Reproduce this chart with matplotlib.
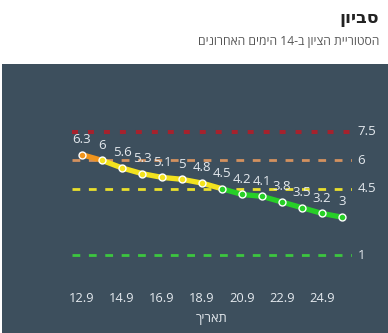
import re
import matplotlib
matplotlib.use("Agg")
import matplotlib.pyplot as plt
from matplotlib.patches import Rectangle

plt.rcParams['font.family'] = ['Open Sans', 'DejaVu Sans']
plt.rcParams['lines.scale_dashes'] = False

# ---- data ----
dates = ["12.9", "13.9", "14.9", "15.9", "16.9", "17.9", "18.9",
         "19.9", "20.9", "21.9", "22.9", "23.9", "24.9", "25.9"]
values = [6.3, 6, 5.6, 5.3, 5.1, 5, 4.8, 4.5, 4.2, 4.1, 3.8, 3.5, 3.2, 3]
tick_labels = ["12.9", "14.9", "16.9", "18.9", "20.9", "22.9", "24.9"]
thresholds = [7.5, 6, 4.5, 1]
threshold_labels = ["7.5", "6", "4.5", "1"]
title = "סביון"
subtitle = "הסטוריית הציון ב-14 הימים האחרונים"
xlabel = "תאריך"


def rtl(s):
    r = s[::-1]
    return re.sub(r"[0-9.]+", lambda m: m.group(0)[::-1], r)


BG = "#3d4f5d"
TXT = "#e4e9ee"
seg_orange = "#f0941c"
seg_yellow = "#f3e21e"
seg_green = "#27cf27"
th_styles = [
    dict(color="#a5222d", lw=2.9, dashes=(4.3, 7.2)),
    dict(color="#d3915f", lw=2.0, dashes=(5.6, 6.2)),
    dict(color="#e9df2c", lw=2.0, dashes=(5.6, 6.2)),
    dict(color="#3cc63f", lw=2.0, dashes=(5.6, 6.2)),
]

fig = plt.figure(figsize=(3.88, 3.33), dpi=100)
fig.patch.set_facecolor("white")
fig.add_artist(Rectangle((2 / 388, 0), 1, (333 - 64) / 333,
                         transform=fig.transFigure, facecolor=BG,
                         edgecolor="none", zorder=0))

fig.text(379 / 388, 1 - 18 / 333, rtl(title), ha="right", va="center",
         fontsize=12.5, fontweight="bold", color="#222222")
fig.text(379 / 388, 1 - 41 / 333, rtl(subtitle), ha="right", va="center",
         fontsize=8.7, color="#555555")

ax = fig.add_axes([72 / 388, (333 - 274) / 333, 280 / 388, (274 - 113) / 333])
ax.set_facecolor("none")
ax.patch.set_alpha(0)
x = list(range(len(values)))
ax.set_xlim(-0.5, len(values) - 0.5)
ax.set_ylim(0, 8.5)

for t, lab, st in zip(thresholds, threshold_labels, th_styles):
    ax.plot([-0.5, len(values) - 0.5], [t, t], color=st["color"], lw=st["lw"],
            dashes=st["dashes"], solid_capstyle="butt", dash_capstyle="butt",
            zorder=1)
    ax.annotate(lab, xy=(1, t), xycoords=("axes fraction", "data"),
                xytext=(4, 0), textcoords="offset points", ha="left",
                va="center", fontsize=9.5, color=TXT)


def seg_color(v):
    if v > thresholds[1]:
        return seg_orange
    if v > thresholds[2]:
        return seg_yellow
    return seg_green


for i in range(len(values) - 1):
    ax.plot(x[i:i + 2], values[i:i + 2], color=seg_color(values[i]), lw=3.8,
            solid_capstyle="round", zorder=2)
for i, v in enumerate(values):
    c = seg_color(values[i]) if i < len(values) - 1 else seg_color(values[i - 1])
    ax.plot([x[i]], [v], marker="o", ms=5, mfc=c, mec="white", mew=1.0,
            zorder=3)
    ax.annotate(f"{v:g}", xy=(x[i], v), xytext=(0, 11),
                textcoords="offset points", ha="center", va="center",
                fontsize=9.5, color=TXT, zorder=4)

ticks = [dates.index(t) for t in tick_labels]
ax.set_xticks(ticks)
ax.set_xticklabels(tick_labels, fontsize=9.3, color=TXT)
ax.tick_params(axis="x", length=0, pad=13)
ax.set_yticks([])
for s in ax.spines.values():
    s.set_visible(False)
ax.set_xlabel(rtl(xlabel), fontsize=9.3, color=TXT, labelpad=5)

fig.savefig("out.png", dpi=100)
